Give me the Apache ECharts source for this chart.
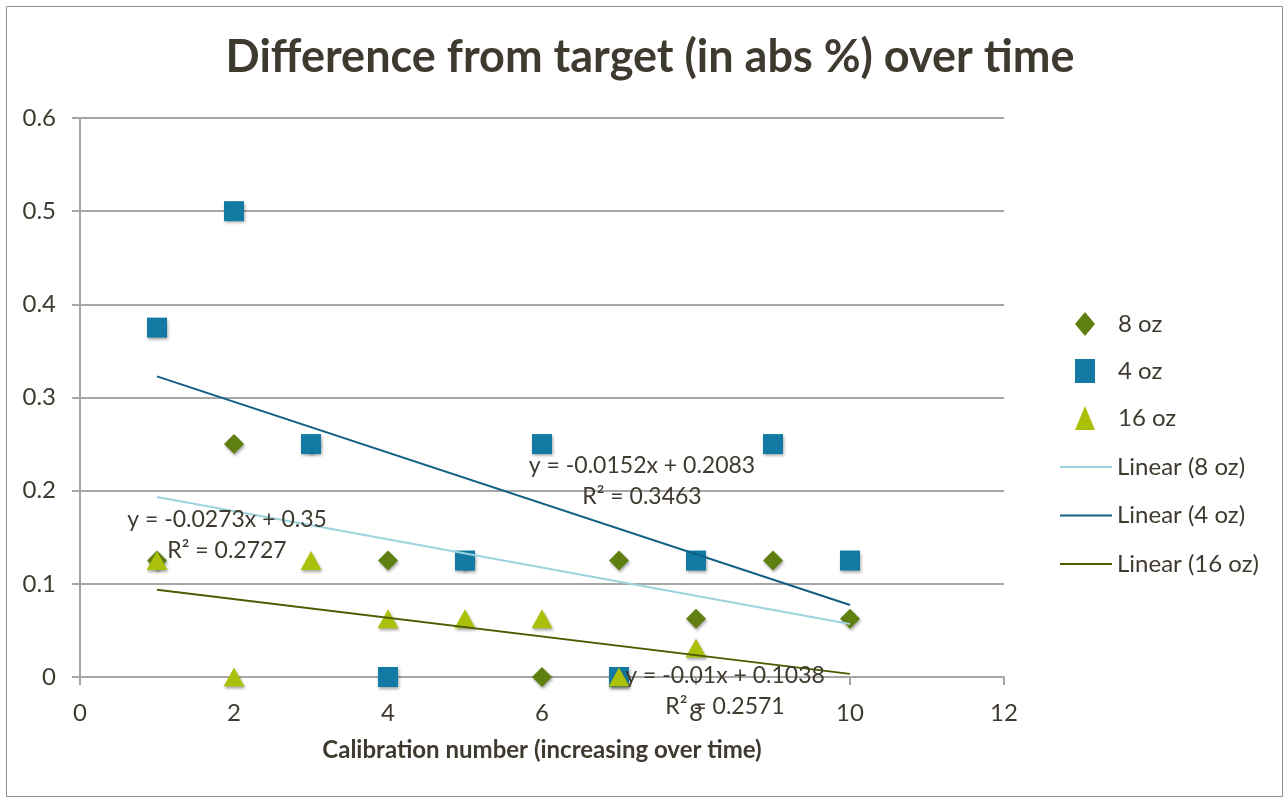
<!DOCTYPE html>
<html>
<head>
<meta charset="utf-8">
<script src="https://cdn.jsdelivr.net/npm/echarts@6/dist/echarts.min.js"></script>
<style>
html,body{margin:0;padding:0;background:#fff;}
#c{width:1286px;height:800px;}
</style>
</head>
<body>
<div id="c"></div>
<script>
// ---- data ----
const seriesNames = ['8 oz', '4 oz', '16 oz'];
const x8 = [1, 2, 3, 4, 5, 6, 7, 8, 9, 10];
const y8 = [0.125, 0.25, 0.25, 0.125, 0.125, 0, 0.125, 0.0625, 0.125, 0.0625];
const x4 = [1, 2, 3, 4, 5, 6, 7, 8, 9, 10];
const y4 = [0.375, 0.5, 0.25, 0, 0.125, 0.25, 0, 0.125, 0.25, 0.125];
const x16 = [1, 2, 3, 4, 5, 6, 7, 8];
const y16 = [0.125, 0, 0.125, 0.0625, 0.0625, 0.0625, 0, 0.03125];
const trendNames = ['Linear (8 oz)', 'Linear (4 oz)', 'Linear (16 oz)'];
const trendRange = [1, 10];
const eqLabels = [
  ['y = -0.0152x + 0.2083', 'R\u00b2 = 0.3463'],
  ['y = -0.0273x + 0.35', 'R\u00b2 = 0.2727'],
  ['y = -0.01x + 0.1038', 'R\u00b2 = 0.2571']
];
const xTicks = [0, 12, 2];
const yTicks = [0, 0.6, 0.1];

// ---- helpers ----
function fit(xs, ys) {
  const n = xs.length;
  const mx = xs.reduce((a, b) => a + b, 0) / n;
  const my = ys.reduce((a, b) => a + b, 0) / n;
  let sxy = 0, sxx = 0;
  for (let i = 0; i < n; i++) { sxy += (xs[i] - mx) * (ys[i] - my); sxx += (xs[i] - mx) ** 2; }
  const m = sxy / sxx, b = my - m * mx;
  return trendRange.map(x => [x, m * x + b]);
}
const pts = (xs, ys) => xs.map((x, i) => [x, ys[i]]);

const textColor = '#3f3a2f';
const font = 'Lato, "Noto Sans", sans-serif';
const gridColor = '#a6a6a6';
const shadow = { shadowBlur: 3, shadowOffsetY: 2, shadowOffsetX: 1, shadowColor: 'rgba(0,0,0,0.35)' };

const markerColors = ['#5f7f10', '#127aa3', '#abc00a'];
const markerSymbols = ['diamond', 'rect', 'triangle'];
const markerSizes = [[20, 20], [20, 20], [21, 19]];
const lineColors = ['#9dd3df', '#115f82', '#4d5c00'];

const scatterData = [pts(x8, y8), pts(x4, y4), pts(x16, y16)];
const trendData = [fit(x8, y8), fit(x4, y4), fit(x16, y16)];

const series = [];
for (let i = 0; i < 3; i++) {
  series.push({
    name: seriesNames[i], type: 'scatter', data: scatterData[i],
    symbol: markerSymbols[i], symbolSize: markerSizes[i],
    itemStyle: Object.assign({ color: markerColors[i], opacity: 1 }, shadow),
    z: 2 + i
  });
}
for (let i = 0; i < 3; i++) {
  series.push({
    name: trendNames[i], type: 'line', data: trendData[i], symbol: 'none', showSymbol: false,
    lineStyle: { color: lineColors[i], width: 2 }, itemStyle: { color: lineColors[i] },
    z: 6, silent: true
  });
}

const labelPos = [[642, 466, 497], [227, 520, 551], [725, 676, 707]];
const graphics = [{
  type: 'rect', shape: { x: 6.5, y: 6.5, width: 1276, height: 790 },
  style: { fill: 'none', stroke: '#8f8f8f', lineWidth: 1 }, silent: true, z: -1
}];
for (let i = 0; i < 3; i++) {
  for (let j = 0; j < 2; j++) {
    graphics.push({
      type: 'text', x: labelPos[i][0], y: labelPos[i][j + 1], z: 100,
      style: { text: eqLabels[i][j], fill: textColor, font: '23px ' + font, textAlign: 'center', textVerticalAlign: 'middle' }
    });
  }
}

const chart = echarts.init(document.getElementById('c'));
chart.setOption({
  animation: false,
  backgroundColor: '#fff',
  title: {
    text: 'Difference from target (in abs %) over time', left: 645, top: 30, textAlign: 'center',
    textStyle: { fontFamily: font, fontWeight: 'bold', fontSize: 45, color: textColor }
  },
  grid: { left: 80, right: 282, top: 118, bottom: 123, containLabel: false },
  legend: [{
    data: seriesNames, orient: 'vertical', left: 1075, top: 312, padding: 0,
    itemWidth: 20, itemHeight: 24, itemGap: 23,
    textStyle: { fontFamily: font, fontSize: 24, color: textColor, padding: [0, 0, 0, 18] }
  }, {
    data: trendNames, orient: 'vertical', left: 1060, top: 455, padding: 0,
    icon: 'path://M0,0L52,0L52,2L0,2Z', symbolKeepAspect: true,
    itemWidth: 52, itemHeight: 24, itemGap: 24.5,
    textStyle: { fontFamily: font, fontSize: 24, color: textColor }
  }],
  xAxis: {
    type: 'value', min: xTicks[0], max: xTicks[1], interval: xTicks[2],
    name: 'Calibration number (increasing over time)', nameLocation: 'middle', nameGap: 61,
    nameTextStyle: { fontFamily: font, fontWeight: 'bold', fontSize: 24, color: textColor },
    axisLine: { show: true, onZero: false, lineStyle: { color: gridColor, width: 2 } },
    axisTick: { show: true, inside: false, length: 8, lineStyle: { color: gridColor, width: 2 } },
    axisLabel: { fontFamily: font, fontSize: 24, color: textColor, margin: 24 },
    splitLine: { show: false }
  },
  yAxis: {
    type: 'value', min: yTicks[0], max: yTicks[1], interval: yTicks[2],
    axisLine: { show: true, lineStyle: { color: gridColor, width: 2 } },
    axisTick: { show: true, inside: false, length: 8, lineStyle: { color: gridColor, width: 2 } },
    axisLabel: { fontFamily: font, fontSize: 24, color: textColor, margin: 24 },
    splitLine: { show: true, lineStyle: { color: gridColor, width: 2 } }
  },
  series: series,
  graphic: graphics
});
</script>
</body>
</html>
